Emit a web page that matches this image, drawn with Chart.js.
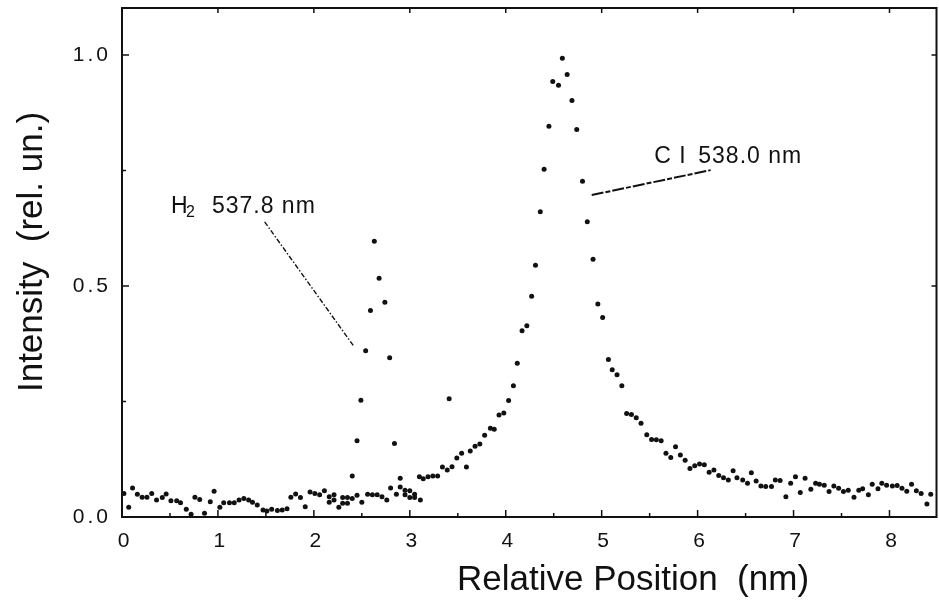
<!DOCTYPE html>
<html>
<head>
<meta charset="utf-8">
<script src="https://cdn.jsdelivr.net/npm/chart.js@4.4.0/dist/chart.umd.min.js"></script>
<style>
  html,body{margin:0;padding:0;background:#fff}
  #c{display:block}
</style>
</head>
<body>
<canvas id="c" width="939" height="603"></canvas>
<script>
/* --- DATA --- */
// background scan, left part
const baseX = [0.02,0.07,0.11,0.16,0.21,0.26,0.31,0.36,0.42,0.46,0.51,0.57,0.61,0.67,0.72,0.76,0.81,0.86,0.92,0.96,
  1.02,1.06,1.12,1.17,1.22,1.27,1.32,1.36,1.41,1.47,1.51,1.56,1.62,1.67,1.72,1.76,1.81,1.86,1.91,1.96,
  2.01,2.06,2.11,2.16,2.21,2.26,2.30,2.35,2.40,2.45,2.50,2.56,2.61,2.66,2.71,2.76,2.80,2.86,2.90,2.95,
  3.00,3.05,3.11];
const baseY = [0.051,0.021,0.063,0.049,0.043,0.043,0.051,0.037,0.042,0.050,0.035,0.035,0.031,0.017,0.006,0.043,0.038,0.008,0.033,0.056,
  0.021,0.031,0.031,0.031,0.037,0.040,0.037,0.032,0.026,0.015,0.013,0.017,0.014,0.015,0.018,0.043,0.050,0.042,0.022,0.054,
  0.051,0.048,0.057,0.044,0.048,0.021,0.042,0.042,0.040,0.047,0.032,0.049,0.048,0.048,0.044,0.037,0.063,0.049,0.065,0.058,
  0.057,0.049,0.037];
// second overlapping row of the background
const base2X = [2.16,2.21,2.30,2.35,2.95,3.00,3.05];
const base2Y = [0.032,0.037,0.030,0.030,0.048,0.042,0.042];
// H2 537.8 nm line
const h2X = [2.40,2.45,2.49,2.54,2.59,2.63,2.68,2.74,2.79,2.84,2.90];
const h2Y = [0.089,0.165,0.253,0.360,0.447,0.597,0.517,0.465,0.345,0.159,0.084];
// C I 538.0 nm line
const ciX = [3.10,3.14,3.19,3.24,3.29,3.34,3.39,3.44,3.49,3.54,3.59,3.63,3.68,3.73,3.78,3.84,3.88,3.93,3.98,
  4.03,4.08,4.12,4.17,4.22,4.27,4.31,4.36,4.40,4.45,4.49,4.55,4.59,4.64,4.69,4.74,4.80,4.85,4.91,4.96,
  5.01,5.07,5.11,5.16,5.21,5.26,5.31,5.36,5.41,5.47,5.52,5.57,5.62,5.67,5.72,5.77,5.82,5.87,5.92,5.97,
  6.02,6.07,6.12,6.17,6.22,6.27,6.32,6.37,6.41,6.47,6.52,6.56,6.61,6.66,6.71,6.77,6.81,6.86,6.92,6.97,
  7.02,7.07,7.12,7.18,7.23,7.27,7.32,7.37,7.42,7.47,7.52,7.57,7.63,7.68,7.72,7.78,7.82,7.88,7.92,7.97,
  8.03,8.08,8.13,8.18,8.23,8.28,8.33,8.39,8.43];
const ciY = [0.087,0.083,0.087,0.089,0.089,0.108,0.102,0.109,0.128,0.138,0.108,0.143,0.153,0.158,0.177,0.192,0.190,0.221,0.225,
  0.252,0.284,0.333,0.403,0.414,0.478,0.545,0.661,0.753,0.846,0.943,0.935,0.993,0.958,0.902,0.839,0.727,0.639,0.558,0.461,
  0.432,0.341,0.319,0.308,0.284,0.224,0.222,0.215,0.203,0.178,0.168,0.167,0.165,0.138,0.129,0.152,0.134,0.123,0.105,0.111,
  0.115,0.113,0.097,0.102,0.090,0.085,0.080,0.100,0.085,0.080,0.073,0.096,0.078,0.067,0.066,0.066,0.080,0.079,0.044,0.073,
  0.087,0.053,0.084,0.060,0.073,0.071,0.069,0.055,0.067,0.062,0.055,0.058,0.043,0.058,0.061,0.048,0.071,0.061,0.073,0.069,
  0.067,0.068,0.062,0.056,0.071,0.057,0.051,0.028,0.049];
// single stray point
const strayX = [3.41];
const strayY = [0.256];

// axis ticks
const xTicks = [0,1,2,3,4,5,6,7,8];
const xMinor = [0.5,1.5,2.5,3.5,4.5,5.5,6.5,7.5];
const yTicks = [0,0.5,1.0];
const yMinor = [0.25,0.75];

/* --- HELPERS --- */
const FONT = '"Liberation Sans", Arial, Helvetica, sans-serif';
const INK = '#111';
const pts = (xs, ys) => xs.map((x, i) => ({x: x, y: ys[i]}));
const dots = d => ({data: d, pointRadius: 2.5, pointHoverRadius: 2.5, pointBackgroundColor: INK, pointBorderWidth: 0, showLine: false});

/* --- FRAME, TICK MARKS, ANNOTATIONS, TITLES --- */
const decor = {
  id: 'decor',
  beforeDraw(chart){
    // the scanned tick labels are loosely spaced
    chart.ctx.letterSpacing = '3px';
  },
  afterDraw(chart){
    const c = chart.ctx, a = chart.chartArea;
    const xs = chart.scales.x, ys = chart.scales.y;
    const X = v => xs.getPixelForValue(v), Y = v => ys.getPixelForValue(v);
    c.save();
    c.letterSpacing = '0px';
    c.strokeStyle = INK; c.fillStyle = INK;

    // frame
    c.lineWidth = 2;
    c.strokeRect(a.left, a.top, a.right - a.left, a.bottom - a.top);

    // inward tick marks
    c.lineWidth = 1.5;
    c.beginPath();
    xTicks.forEach(v => { c.moveTo(X(v), a.bottom); c.lineTo(X(v), a.bottom - 7);
                          c.moveTo(X(v), a.top); c.lineTo(X(v), a.top + 5); });
    xMinor.forEach(v => { c.moveTo(X(v), a.bottom); c.lineTo(X(v), a.bottom - 4); });
    yTicks.forEach(v => { c.moveTo(a.left, Y(v)); c.lineTo(a.left + 7, Y(v));
                          c.moveTo(a.right, Y(v)); c.lineTo(a.right - 5, Y(v)); });
    yMinor.forEach(v => { c.moveTo(a.left, Y(v)); c.lineTo(a.left + 4, Y(v)); });
    c.stroke();

    // leader lines
    c.lineWidth = 1.4;
    c.setLineDash([5, 2, 1.5, 2]);
    c.beginPath(); c.moveTo(X(1.487), Y(0.639)); c.lineTo(X(2.422), Y(0.368)); c.stroke();
    c.lineWidth = 2;
    c.setLineDash([12, 2, 5, 2]);
    c.beginPath(); c.moveTo(X(4.896), Y(0.697)); c.lineTo(X(6.136), Y(0.751)); c.stroke();
    c.setLineDash([]);

    // line labels
    c.textBaseline = 'alphabetic'; c.textAlign = 'left';
    let x0 = X(0.51), y0 = Y(0.658);
    c.font = '23px ' + FONT;
    c.fillText('H', x0, y0);
    c.font = '16px ' + FONT;
    c.fillText('2', x0 + 15, y0 + 4);
    c.font = '23px ' + FONT;
    c.letterSpacing = '1px';
    c.fillText('537.8 nm', x0 + 41, y0);

    x0 = X(5.548); y0 = Y(0.766);
    c.fillText('C', x0, y0);
    c.fillText('I', x0 + 25, y0);
    c.fillText('538.0 nm', x0 + 44, y0);
    c.letterSpacing = '0px';

    // axis titles
    c.font = '35px ' + FONT;
    c.textAlign = 'center';
    c.fillText('Relative Position  (nm)', a.left + 511, 590);
    c.translate(42, 252);
    c.rotate(-Math.PI / 2);
    c.fillText('Intensity  (rel. un.)', 0, 0);
    c.restore();
  }
};

/* --- CHART --- */
new Chart(document.getElementById('c'), {
  type: 'scatter',
  data: {datasets: [
    dots(pts(baseX, baseY)),
    dots(pts(base2X, base2Y)),
    dots(pts(h2X, h2Y)),
    dots(pts(ciX, ciY)),
    dots(pts(strayX, strayY))
  ]},
  options: {
    responsive: false, animation: false, devicePixelRatio: 1,
    layout: {padding: {top: 8, right: 2, left: 0, bottom: 0}},
    plugins: {legend: {display: false}, tooltip: {enabled: false}},
    scales: {
      x: {
        type: 'linear', min: 0, max: 8.49,
        grid: {display: false, drawTicks: false}, border: {display: false},
        afterBuildTicks: s => { s.ticks = xTicks.map(v => ({value: v})); },
        afterFit: s => { s.height = 86; s.paddingLeft = 0; s.paddingRight = 0; },
        ticks: {font: {family: FONT, size: 21}, color: INK, padding: 12, labelOffset: 3, maxRotation: 0, autoSkip: false}
      },
      y: {
        type: 'linear', min: 0, max: 1.102,
        grid: {display: false, drawTicks: false}, border: {display: false},
        afterBuildTicks: s => { s.ticks = yTicks.map(v => ({value: v})); },
        afterFit: s => { s.width = 122; s.paddingTop = 0; s.paddingBottom = 0; },
        ticks: {font: {family: FONT, size: 21}, color: INK, padding: 11, callback: v => v.toFixed(1)}
      }
    }
  },
  plugins: [decor]
});
</script>
</body>
</html>
